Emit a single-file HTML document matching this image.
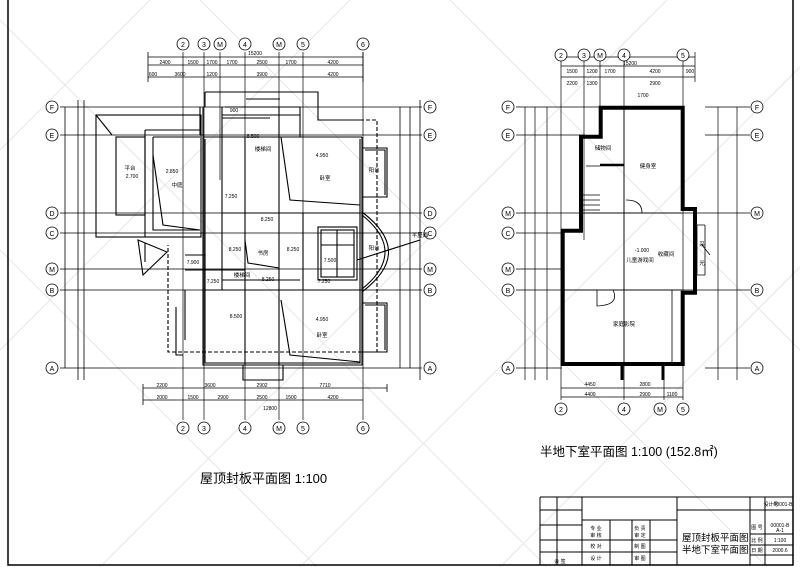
<!DOCTYPE html>
<html><head><meta charset="utf-8"><style>
html,body{margin:0;padding:0;background:#fff;}
svg{display:block}
text{font-family:"Liberation Sans","Noto Sans CJK SC",sans-serif;fill:#000}
</style></head><body>
<svg width="800" height="567" viewBox="0 0 800 567" xmlns="http://www.w3.org/2000/svg">
<g stroke="#ddd" stroke-width="1" fill="none" opacity="0.7">
<path d="M0 150 L150 0 M0 350 L350 0 M100 567 L667 0 M300 567 L800 67 M500 567 L800 267 M0 20 L547 567 M200 0 L767 567 M450 0 L800 350 M0 250 L317 567"/>
</g>
<g stroke="#000" fill="none">
<path d="M8 0 V565 H793 V0" stroke-width="1.5"/>
</g>
<!-- ================= LEFT PLAN ================= -->
<g stroke="#000" stroke-width="1.1" fill="none">
<path d="M183 52 V420 M204 52 V420 M220 52 V180 M245 52 V420 M279 52 V420 M303 52 V420 M363 52 V420" stroke-width="0.7"/>
<path d="M60 107 H422 M60 135 H422 M60 213 H422 M60 233 H422 M60 269 H422 M60 290 H422 M60 368 H422" stroke-width="0.7"/>
<path d="M148 57 H363 M148 65 H363 M148 77 H363 M148 52 V82 M363 52 V82" stroke-width="0.8"/>
<path d="M143 388 H387 M143 400 H363 M143 384 V405 M387 384 V392" stroke-width="0.8"/>
<path d="M65 107 V368 M78 100 V380 M84 100 V380 M400 107 V368 M410 107 V368 M420 100 V380" stroke-width="0.8"/>
<rect x="96" y="115" width="105" height="122"/>
<rect x="116" y="137" width="29" height="78"/>
<path d="M145 130 L145 237 M145 130 L200 130 M153 137 V230 H200 M153 137 H200"/>
<path d="M96 115 L112 135"/>
<path d="M153 155 L163 225 L200 230"/>
<path d="M203 107 V365 H362 V137 M203 137 H362 M205 139 V363 H360 V139"/>
<path d="M205 92 H318 V120 H362 M205 92 V107 M200 107 V135"/>
<path d="M318 120 H377 V352 H168 V245" stroke-dasharray="4,2"/>
<path d="M222 107 V213 M225 107 H300 V137 M245 137 V365 M279 107 V365 M281 137 L290 200 L360 205 M222 213 H360 M222 213 V290 M303 213 V290 M245 240 L248 263 L279 268 M222 280 H300 M185 270 H245 M203 290 H362 M185 255 H205 V290 M185 290 V340 M176 307 V355 H183 M281 300 L290 355 L360 362 M243 365 V380 H283 V365"/>
<path d="M362 148 H387 V197 H362 M365 150 H385 V195 M362 303 H387 V352 H362 M365 305 H385 V350"/>
<path d="M362 212 Q415 252 362 292 M362 215 Q408 252 362 289"/>
<rect x="318" y="227" width="39" height="53"/>
<rect x="321" y="230" width="33" height="47"/>
<path d="M337 230 V277 M321 245 H354 M357 260 L420 240"/>
<path d="M138 240 L167 252 L143 275 Z M145 243 V262"/>
<path d="M246 99 H280 M222 115 H300 M222 118 H270"/>
</g>
<g stroke="#000" stroke-width="0.8" fill="#fff" font-size="9">
<circle cx="183" cy="44" r="6"/><circle cx="204" cy="44" r="6"/><circle cx="220" cy="44" r="6"/><circle cx="245" cy="44" r="6"/><circle cx="279" cy="44" r="6"/><circle cx="303" cy="44" r="6"/><circle cx="363" cy="44" r="6"/>
<circle cx="183" cy="428" r="6"/><circle cx="204" cy="428" r="6"/><circle cx="245" cy="428" r="6"/><circle cx="279" cy="428" r="6"/><circle cx="303" cy="428" r="6"/><circle cx="363" cy="428" r="6"/>
<circle cx="52" cy="107" r="6"/><circle cx="52" cy="135" r="6"/><circle cx="52" cy="213" r="6"/><circle cx="52" cy="233" r="6"/><circle cx="52" cy="269" r="6"/><circle cx="52" cy="290" r="6"/><circle cx="52" cy="368" r="6"/>
<circle cx="430" cy="107" r="6"/><circle cx="430" cy="135" r="6"/><circle cx="430" cy="213" r="6"/><circle cx="430" cy="233" r="6"/><circle cx="430" cy="269" r="6"/><circle cx="430" cy="290" r="6"/><circle cx="430" cy="368" r="6"/>
</g>
<g font-size="7" text-anchor="middle">
<text x="183" y="47">2</text><text x="204" y="47">3</text><text x="220" y="47">M</text><text x="245" y="47">4</text><text x="279" y="47">M</text><text x="303" y="47">5</text><text x="363" y="47">6</text>
<text x="183" y="431">2</text><text x="204" y="431">3</text><text x="245" y="431">4</text><text x="279" y="431">M</text><text x="303" y="431">5</text><text x="363" y="431">6</text>
<text x="52" y="110">F</text><text x="52" y="138">E</text><text x="52" y="216">D</text><text x="52" y="236">C</text><text x="52" y="272">M</text><text x="52" y="293">B</text><text x="52" y="371">A</text>
<text x="430" y="110">F</text><text x="430" y="138">E</text><text x="430" y="216">D</text><text x="430" y="236">C</text><text x="430" y="272">M</text><text x="430" y="293">B</text><text x="430" y="371">A</text>
</g>
<g font-size="5" text-anchor="middle">
<text x="255" y="55">15200</text>
<text x="165" y="64">2400</text><text x="193" y="64">1500</text><text x="212" y="64">1700</text><text x="232" y="64">1700</text><text x="262" y="64">2500</text><text x="291" y="64">1700</text><text x="333" y="64">4200</text>
<text x="153" y="76">600</text><text x="180" y="76">3600</text><text x="212" y="76">1200</text><text x="262" y="76">3900</text><text x="333" y="76">4200</text>
<text x="162" y="387">2200</text><text x="210" y="387">3600</text><text x="262" y="387">2902</text><text x="325" y="387">7710</text>
<text x="162" y="399">2000</text><text x="193" y="399">1500</text><text x="223" y="399">2900</text><text x="262" y="399">2500</text><text x="291" y="399">1500</text><text x="333" y="399">4200</text>
<text x="270" y="410">12800</text>
<text x="234" y="112">900</text><text x="253" y="138">8.500</text><text x="322" y="157">4.950</text><text x="172" y="173">2.850</text><text x="132" y="178">2.700</text>
<text x="267" y="221">8.250</text><text x="235" y="251">8.250</text><text x="293" y="251">8.250</text><text x="330" y="262">7.500</text><text x="193" y="264">7.900</text><text x="268" y="281">8.250</text><text x="213" y="283">7.250</text><text x="324" y="283">7.250</text><text x="236" y="318">8.500</text><text x="322" y="321">4.950</text><text x="231" y="198">7.250</text>
</g>
<g font-size="5.5" text-anchor="middle">
<text x="130" y="170">平台</text><text x="177" y="187">中庭</text><text x="263" y="151">楼梯间</text><text x="325" y="180">卧室</text><text x="374" y="172">阳台</text><text x="263" y="255">书房</text><text x="374" y="250">阳台</text><text x="242" y="277">楼梯间</text><text x="322" y="337">卧室</text><text x="420" y="237">平屋面</text>
</g>
<text x="200" y="483" font-size="13" font-family="Liberation Sans,Noto Sans CJK SC,sans-serif">屋顶封板平面图 1:100</text>

<!-- ================= RIGHT PLAN ================= -->
<g stroke="#000" stroke-width="0.7" fill="none">
<path d="M561 52 V400 M584 52 V240 M600 52 V107 M624 52 V400 M683 52 V400 M664 364 V400"/>
<path d="M516 107 H600 M705 107 H750 M516 135 H585 M705 135 H750 M516 213 H750 M516 233 H562 M516 269 H562 M516 290 H750 M516 368 H562 M705 368 H750"/>
<path d="M561 57 H695 M561 66 H695 M561 77 H695 M695 52 V82 M561 388 H683 M561 397 H683"/>
<path d="M525 107 V380 M535 107 V380 M547 107 V380 M718 107 V380 M737 107 V380"/>
</g>
<path d="M600.7 107.7 H682.7 V209 H695 V292.7 H682.7 V364 H562.7 V230.7 H581 V136.7 H600.7 Z" stroke="#000" stroke-width="4" fill="none"/>
<g stroke="#000" stroke-width="0.8" fill="none">
<path d="M600 165 H624 M624 108 V213 M581 213 H682 M562 290 H682 M624 213 V364 M672 290 V364 M586 166 L600 166"/>
<path d="M600 165 H624" stroke-width="2.5"/>
<path d="M582 195 H600 M582 200 H600 M582 205 H600 M582 210 H600"/>
<path d="M626 200 Q642 200 642 213 M613 290 Q620 305 597 306 V290"/>
<path d="M695 225 H705 M695 275 H705 M697 225 V275 M705 225 V275 M702 245 L710 255"/>
<path d="M622 364 V380 M663 364 V380" stroke-width="3"/>
</g>
<g stroke="#000" stroke-width="0.8" fill="#fff">
<circle cx="561" cy="55" r="6"/><circle cx="584" cy="55" r="6"/><circle cx="600" cy="55" r="6"/><circle cx="624" cy="55" r="6"/><circle cx="683" cy="55" r="6"/>
<circle cx="561" cy="409" r="6"/><circle cx="624" cy="409" r="6"/><circle cx="660" cy="409" r="6"/><circle cx="683" cy="409" r="6"/>
<circle cx="508" cy="107" r="6"/><circle cx="508" cy="135" r="6"/><circle cx="508" cy="213" r="6"/><circle cx="508" cy="233" r="6"/><circle cx="508" cy="269" r="6"/><circle cx="508" cy="290" r="6"/><circle cx="508" cy="368" r="6"/>
<circle cx="757" cy="107" r="6"/><circle cx="757" cy="135" r="6"/><circle cx="757" cy="213" r="6"/><circle cx="757" cy="290" r="6"/><circle cx="757" cy="368" r="6"/>
</g>
<g font-size="7" text-anchor="middle">
<text x="561" y="58">2</text><text x="584" y="58">3</text><text x="600" y="58">M</text><text x="624" y="58">4</text><text x="683" y="58">5</text>
<text x="561" y="412">2</text><text x="624" y="412">4</text><text x="660" y="412">M</text><text x="683" y="412">5</text>
<text x="508" y="110">F</text><text x="508" y="138">E</text><text x="508" y="216">M</text><text x="508" y="236">C</text><text x="508" y="272">M</text><text x="508" y="293">B</text><text x="508" y="371">A</text>
<text x="757" y="110">F</text><text x="757" y="138">E</text><text x="757" y="216">M</text><text x="757" y="293">B</text><text x="757" y="371">A</text>
</g>
<g font-size="5" text-anchor="middle">
<text x="630" y="65">15200</text><text x="572" y="73">1500</text><text x="592" y="73">1200</text><text x="610" y="73">1700</text><text x="655" y="73">4200</text><text x="690" y="73">900</text>
<text x="572" y="85">2200</text><text x="592" y="85">1300</text><text x="655" y="85">2900</text>
<text x="642" y="252">-1.000</text><text x="590" y="386">4450</text><text x="645" y="386">2800</text><text x="590" y="396">4400</text><text x="645" y="396">2900</text><text x="672" y="396">1100</text>
<text x="643" y="97">1700</text>
</g>
<g font-size="5.5" text-anchor="middle">
<text x="603" y="150">储物间</text><text x="648" y="168">健身室</text><text x="640" y="262">儿童游戏间</text><text x="666" y="256">收藏间</text><text x="624" y="326">家庭影院</text><text x="702" y="246">采</text><text x="702" y="265">光</text>
</g>
<text x="540" y="456" font-size="12.5" font-family="Liberation Sans,Noto Sans CJK SC,sans-serif">半地下室平面图 1:100 (152.8㎡)</text>

<!-- ================= TITLE BLOCK ================= -->
<g stroke="#000" stroke-width="1" fill="none">
<path d="M540 497 H793 M540 497 V565 M557 497 V565 M582 497 V565 M677 497 V565 M750 497 V565 M765 497 V565 M582 520 H677 M677 510 H793 M750 534 H793 M750 545 H793 M750 555 H793 M540 510 H582 M540 525 H582 M540 540 H582 M540 552 H582 M582 540 H677 M582 552 H677 M610 520 V565 M632 520 V565 M650 520 V565"/>
</g>
<g font-size="5" text-anchor="middle">
<text x="771" y="506">设计号</text><text x="783" y="506">00001-B</text>
<text x="757" y="529">图 号</text><text x="780" y="527">00001-B</text><text x="780" y="532">A-1</text>
<text x="757" y="542">比 例</text><text x="780" y="542">1:100</text>
<text x="757" y="552">日 期</text><text x="780" y="552">2000.6</text>
<text x="560" y="563">会 签</text>
<text x="596" y="530">专 业</text><text x="596" y="537">审 核</text><text x="596" y="548">校 对</text><text x="596" y="560">设 计</text>
<text x="640" y="530">负 责</text><text x="640" y="537">审 定</text><text x="640" y="548">制 图</text><text x="640" y="560">审 图</text>
</g>
<g font-size="9.5" font-family="Liberation Sans,Noto Sans CJK SC,sans-serif">
<text x="682" y="541">屋顶封板平面图</text><text x="682" y="553">半地下室平面图</text>
</g>
</svg>
</body></html>
